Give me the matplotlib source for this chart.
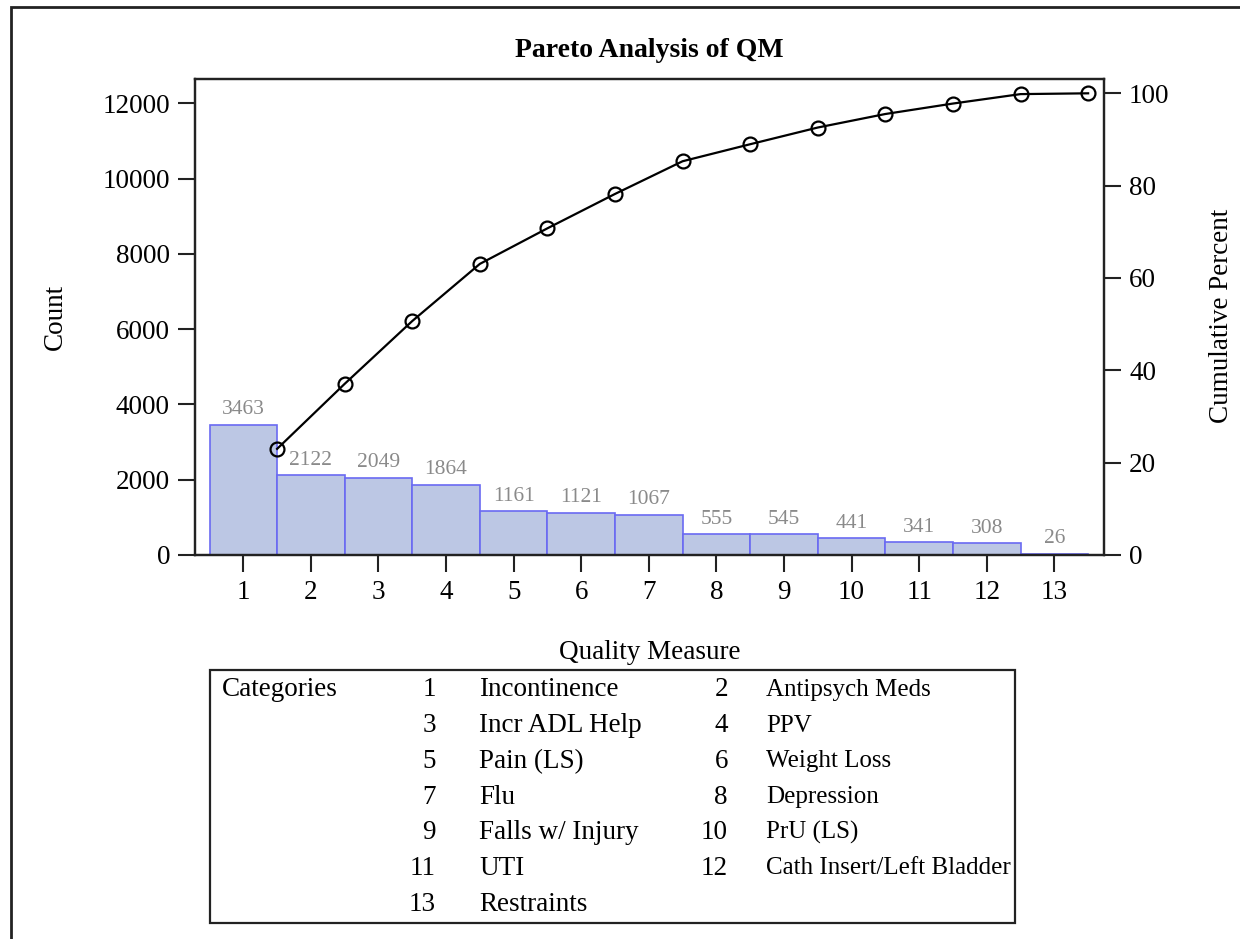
import numpy as np
import matplotlib
matplotlib.use("Agg")
import matplotlib.pyplot as plt
from matplotlib.patches import Rectangle

plt.rcParams["font.family"] = ["Liberation Serif", "DejaVu Serif"]

# data
measure = np.arange(1, 14)
counts = [3463, 2122, 2049, 1864, 1161, 1121, 1067, 555, 545, 441, 341, 308, 26]
category_names = ["Incontinence", "Antipsych Meds", "Incr ADL Help", "PPV",
                  "Pain (LS)", "Weight Loss", "Flu", "Depression",
                  "Falls w/ Injury", "PrU (LS)", "UTI", "Cath Insert/Left Bladder",
                  "Restraints"]
count_ticks = [0, 2000, 4000, 6000, 8000, 10000, 12000]
pct_ticks = [0, 20, 40, 60, 80, 100]

cum_pct = np.cumsum(counts) / np.sum(counts) * 100

W, H = 1240, 939
fig = plt.figure(figsize=(W / 100, H / 100), dpi=100)
ax1 = fig.add_axes([195 / W, 1 - 555 / H, (1104 - 195) / W, (555 - 79) / H])
ax2 = ax1.twinx()

ax1.bar(measure, counts, width=1.0, color="#bcc7e4", edgecolor="#6a6af2",
        linewidth=1.2, zorder=2)
for x, c in zip(measure, counts):
    ax1.annotate(str(c), (x, c), xytext=(0, 4), textcoords="offset points",
                 ha="center", va="bottom", fontsize=15.5, color="#8a8a8a")

ax2.plot(measure + 0.5, cum_pct, color="black", lw=1.6, marker="o",
         markersize=10, markerfacecolor="none", markeredgecolor="black",
         markeredgewidth=1.6)

ax1.set_xlim(0.285, 13.735)
ax1.set_ylim(0, 12650)
ax2.set_ylim(0, 103.1)
ax1.set_xticks(measure)
ax1.set_yticks(count_ticks)
ax2.set_yticks(pct_ticks)

for ax in (ax1, ax2):
    ax.tick_params(length=12, width=1.5, labelsize=19.5, pad=6, color="#222222")
    for s in ax.spines.values():
        s.set_linewidth(1.6)
        s.set_color("#222222")

ax1.set_xlabel("Quality Measure", fontsize=19.5, labelpad=25)
ax1.set_ylabel("Count", fontsize=19.5, labelpad=25)
ax1.set_title("Pareto Analysis of QM", fontsize=20, fontweight="bold", pad=16)
fig.text(1222 / W, 1 - 316 / H, "Cumulative Percent", fontsize=19.5,
         rotation=90, ha="center", va="center")

# category key box below the chart
fig.patches.append(Rectangle((210 / W, 1 - 923 / H), (1015 - 210) / W,
                             (923 - 670) / H, transform=fig.transFigure,
                             fill=False, edgecolor="#222222", linewidth=1.6))
fig.text(222 / W, 1 - 690 / H, "Categories", fontsize=19.5, va="center")
row_y0, row_step = 690, 35.7
for i, name in enumerate(category_names):
    row, col = divmod(i, 2)
    y = 1 - (row_y0 + row * row_step) / H
    num_x = (436, 728)[col]
    name_x = (479, 766)[col]
    name_size = (19.5, 18)[col]
    fig.text(num_x / W, y, str(i + 1), fontsize=19.5, ha="right", va="center")
    fig.text(name_x / W, y, name, fontsize=name_size, ha="left", va="center")

# outer frame (partly cropped in the original)
fig.patches.append(Rectangle((11 / W, -0.05), 1.1, 1 - 7 / H + 0.05,
                             transform=fig.transFigure, fill=False,
                             edgecolor="#222222", linewidth=2))

fig.savefig("out.png", dpi=100)
